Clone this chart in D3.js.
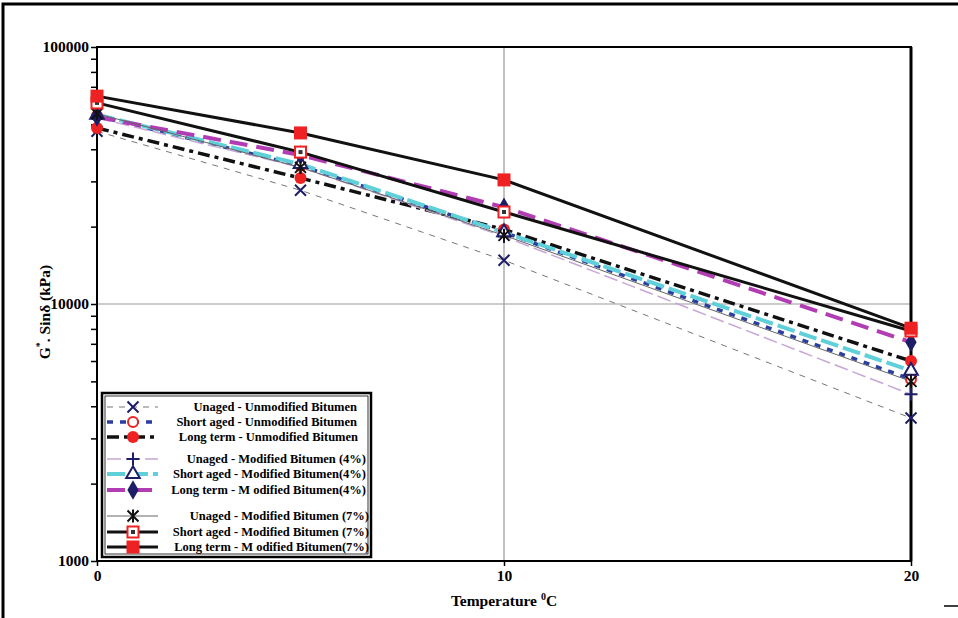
<!DOCTYPE html>
<html>
<head>
<meta charset="utf-8">
<script src="https://cdn.jsdelivr.net/npm/d3@7"></script>
<style>
  body { margin: 0; background: #fff; }
  svg { display: block; font-family: "Liberation Serif", "Times New Roman", serif; font-weight: bold; }
</style>
</head>
<body>
<div id="chart"></div>
<script>
// data (kPa)
const temps = [0, 5, 10, 20]
const xTicks = [0, 10, 20]
const yTicks = [1000, 10000, 100000]
const unagedUnmod = [47000, 27700, 14800, 3600]
const shortUnmod = [54000, 34500, 19000, 5100]
const longUnmod = [48400, 30900, 19500, 6000]
const unaged4 = [53000, 34000, 18300, 4450]
const short4 = [54500, 35000, 19000, 5500]
const long4 = [53400, 38000, 23800, 7100]
const unaged7 = [55000, 34000, 18500, 5000]
const short7 = [60600, 39000, 22800, 7850]
const long7 = [64400, 46300, 30400, 8050]

const labels = [
  "Unaged - Unmodified Bitumen",
  "Short aged - Unmodified Bitumen",
  "Long term - Unmodified Bitumen",
  "Unaged - Modified Bitumen (4%)",
  "Short aged - Modified Bitumen(4%)",
  "Long term - M odified Bitumen(4%)",
  "Unaged - Modified Bitumen (7%)",
  "Short aged - Modified Bitumen (7%)",
  "Long term - M odified Bitumen(7%)"
]

const navy = "#1d1d68", red = "#ee2222"
const series = [
  { vals: unagedUnmod, stroke: "#777", width: 1, dash: "6,6", marker: "x" },
  { vals: shortUnmod, stroke: "#2b3f9e", width: 3.5, dash: "6,7", marker: "circleOpen" },
  { vals: longUnmod, stroke: "#111", width: 3.5, dash: "12,5,4,5", marker: "circle" },
  { vals: unaged4, stroke: "#c6a6d6", width: 1.5, dash: "14,5", marker: "plus" },
  { vals: short4, stroke: "#5fd0da", width: 4, dash: "18,5", marker: "triangle" },
  { vals: long4, stroke: "#b23cb4", width: 4, dash: "18,9", marker: "diamond" },
  { vals: unaged7, stroke: "#666", width: 1, dash: null, marker: "star" },
  { vals: short7, stroke: "#111", width: 3, dash: null, marker: "squareOpen" },
  { vals: long7, stroke: "#111", width: 3, dash: null, marker: "square" }
]

const W = 958, H = 618
const svg = d3.select("#chart").append("svg").attr("width", W).attr("height", H)

const x = d3.scaleLinear().domain([0, 20]).range([97, 911])
const y = d3.scaleLog().domain([1000, 100000]).range([561, 47])

// outer frame
svg.append("path").attr("d", "M3,618V4H958").attr("fill", "none").attr("stroke", "#000").attr("stroke-width", 3)
svg.append("line").attr("x1", 944).attr("x2", 958).attr("y1", 606).attr("y2", 606).attr("stroke", "#000").attr("stroke-width", 1.5)

// grid
svg.append("line").attr("x1", x(10)).attr("x2", x(10)).attr("y1", y(100000)).attr("y2", y(1000))
  .attr("stroke", "#999").attr("stroke-width", 1.2)
svg.append("line").attr("x1", x(0)).attr("x2", x(20)).attr("y1", y(10000)).attr("y2", y(10000))
  .attr("stroke", "#999").attr("stroke-width", 1.2)

// axes
const yAxis = d3.axisLeft(y).tickValues(d3.range(1000, 10000, 1000).concat(d3.range(10000, 100001, 10000)))
  .tickSize(6).tickFormat(d => yTicks.includes(d) ? d : "")
const gy = svg.append("g").attr("transform", `translate(${x(0)},0)`).call(yAxis)
gy.select(".domain").remove()
gy.selectAll("line").attr("stroke", "#000").attr("stroke-width", 1.5)
gy.selectAll("text").attr("font-size", 15.5).attr("font-family", "Liberation Serif").attr("font-weight", "bold")
  .attr("fill", "#000").attr("x", -8)

const xAxis = d3.axisBottom(x).tickValues(xTicks).tickSize(5)
const gx = svg.append("g").attr("transform", `translate(0,${y(1000)})`).call(xAxis)
gx.select(".domain").remove()
gx.selectAll("line").attr("stroke", "#000").attr("stroke-width", 1.5)
gx.selectAll("text").attr("font-size", 15.5).attr("font-family", "Liberation Serif").attr("font-weight", "bold")
  .attr("fill", "#000").attr("y", 9)

svg.append("rect").attr("x", x(0)).attr("y", y(100000)).attr("width", x(20) - x(0)).attr("height", y(1000) - y(100000))
  .attr("fill", "none").attr("stroke", "#000").attr("stroke-width", 2)
svg.append("line").attr("x1", x(20)).attr("x2", x(20)).attr("y1", y(100000)).attr("y2", y(1000))
  .attr("stroke", "#000").attr("stroke-width", 3)

// titles
const xt = svg.append("text").attr("x", x(10)).attr("y", 606).attr("text-anchor", "middle").attr("font-size", 15.5)
xt.append("tspan").text("Temperature ")
xt.append("tspan").attr("font-size", 10).attr("dy", -6).text("0")
xt.append("tspan").attr("dy", 6).text("C")

const yt = svg.append("text").attr("transform", "translate(50,312) rotate(-90)").attr("text-anchor", "middle").attr("font-size", 15.5)
yt.append("tspan").text("G")
yt.append("tspan").attr("font-size", 10).attr("dy", -7).text("*")
yt.append("tspan").attr("dy", 7).text(". Sinδ (kPa)")

// markers
function marker(g, type, cx, cy) {
  const s = 5.5
  const m = g.append("g").attr("transform", `translate(${cx},${cy})`)
  if (type === "x") {
    m.append("path").attr("d", `M${-s},${-s}L${s},${s}M${-s},${s}L${s},${-s}`).attr("stroke", navy).attr("stroke-width", 2)
  } else if (type === "star") {
    m.append("path").attr("d", `M${-s},${-s}L${s},${s}M${-s},${s}L${s},${-s}M0,${-s - 1}V${s + 1}`).attr("stroke", "#111").attr("stroke-width", 2)
  } else if (type === "plus") {
    m.append("path").attr("d", `M${-s - 1},0H${s + 1}M0,${-s - 1}V${s + 1}`).attr("stroke", navy).attr("stroke-width", 2)
  } else if (type === "circle") {
    m.append("circle").attr("r", 6).attr("fill", red)
  } else if (type === "circleOpen") {
    m.append("circle").attr("r", 5).attr("fill", "#fff").attr("stroke", red).attr("stroke-width", 2)
  } else if (type === "triangle") {
    m.append("path").attr("d", d3.symbol(d3.symbolTriangle, 80)()).attr("fill", "#fff").attr("stroke", navy).attr("stroke-width", 2)
  } else if (type === "diamond") {
    m.append("path").attr("d", d3.symbol(d3.symbolDiamond, 110)()).attr("fill", navy)
  } else if (type === "square") {
    m.append("rect").attr("x", -6.5).attr("y", -6.5).attr("width", 13).attr("height", 13).attr("fill", red)
  } else if (type === "squareOpen") {
    m.append("rect").attr("x", -5.5).attr("y", -5.5).attr("width", 11).attr("height", 11).attr("fill", "#fff").attr("stroke", red).attr("stroke-width", 2)
    m.append("rect").attr("x", -2).attr("y", -2).attr("width", 4).attr("height", 4).attr("fill", "#333")
  }
}

const line = d3.line().x((d, i) => x(temps[i])).y(d => y(d))
const gl = svg.append("g")
series.forEach(s => {
  gl.append("path").attr("d", line(s.vals)).attr("fill", "none")
    .attr("stroke", s.stroke).attr("stroke-width", s.width)
    .attr("stroke-dasharray", s.dash)
})
const gm = svg.append("g")
series.forEach(s => {
  s.vals.forEach((v, i) => marker(gm, s.marker, x(temps[i]), y(v)))
})

// legend
const lg = svg.append("g")
lg.append("rect").attr("x", 102).attr("y", 393).attr("width", 269).attr("height", 164)
  .attr("fill", "#fff").attr("stroke", "#000").attr("stroke-width", 2.5)
lg.append("rect").attr("x", 105).attr("y", 396).attr("width", 263).attr("height", 158)
  .attr("fill", "none").attr("stroke", "#000").attr("stroke-width", 0.8)
const rowY = [407, 422, 437, 459, 474, 490, 516, 532, 547]
const textEnd = [357, 357, 358, 366, 366, 366, 369, 369, 369]
series.forEach((s, i) => {
  const yy = rowY[i]
  lg.append("line").attr("x1", 107).attr("x2", 158).attr("y1", yy).attr("y2", yy)
    .attr("stroke", s.stroke).attr("stroke-width", s.width).attr("stroke-dasharray", s.dash)
  marker(lg, s.marker, 133, yy)
  lg.append("text").attr("x", textEnd[i]).attr("y", yy + 4).attr("text-anchor", "end")
    .attr("font-size", 12.5).attr("textLength", null).text(labels[i])
})
</script>
</body>
</html>
